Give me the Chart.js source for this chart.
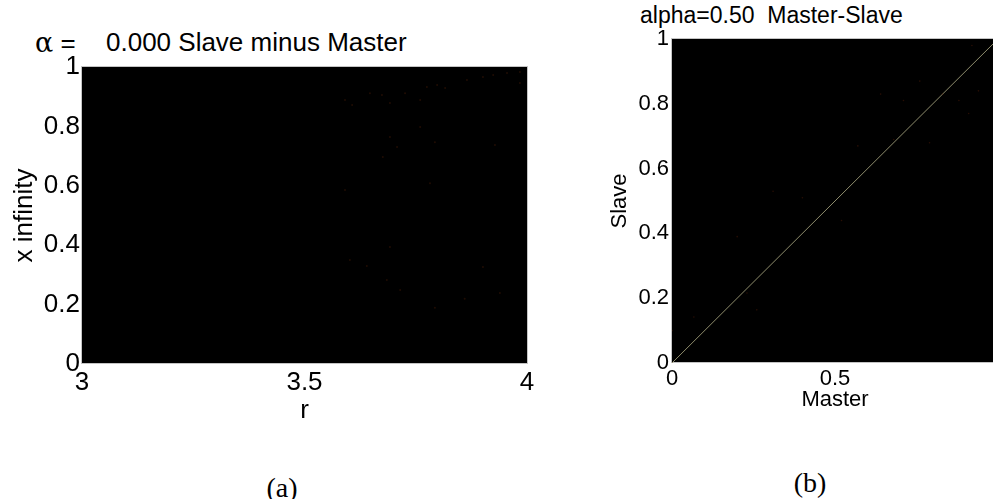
<!DOCTYPE html>
<html>
<head>
<meta charset="utf-8">
<title>Slave minus Master / Master-Slave</title>
<script src="https://cdn.jsdelivr.net/npm/chart.js@4.4.0/dist/chart.umd.min.js"></script>
<style>
  html, body { margin: 0; padding: 0; background: #fff; width: 993px; height: 499px; overflow: hidden; }
  body { position: relative; font-family: 'Liberation Sans', Arial, sans-serif; color: #000; }
  canvas { position: absolute; top: 0; }
  #chartA { left: 0; }
  #chartB { left: 600px; }
  .ttl { position: absolute; white-space: pre; line-height: 1; }
  .greek { font-family: 'DejaVu Serif', serif; font-size: 27px; }
  .cap { position: absolute; width: 100px; text-align: center; line-height: 1; font-family: 'Liberation Serif', serif; font-size: 28px; }
</style>
</head>
<body>
<div class="ttl" style="left:35px; top:29px; font-size:26px"><span class="greek">α</span> =</div>
<div class="ttl" style="left:106px; top:29px; font-size:26px">0.000 Slave minus Master</div>
<div class="ttl" style="left:640px; top:4px; font-size:23px">alpha=0.50  Master-Slave</div>
<canvas id="chartA" width="560" height="440"></canvas>
<canvas id="chartB" width="440" height="440"></canvas>
<div class="cap" style="left:232px; top:474px">(a)</div>
<div class="cap" style="left:760px; top:469px">(b)</div>
<script>
const Chart = window.Chart

// panel (a): r on x, x infinity on y
const rTicks = [3, 3.5, 4]
const xInfTicks = [0, 0.2, 0.4, 0.6, 0.8, 1]
// the few residual specks left after subtracting master from slave
const residR = [3.591, 3.607, 3.647, 3.674, 3.692, 3.726, 3.760, 3.775, 3.798, 3.816, 3.865, 3.901, 3.924, 3.955, 3.984, 3.984,
  3.692, 3.708, 3.760, 3.793, 3.676, 3.928, 3.591, 3.782, 3.692, 3.602, 3.901, 3.685, 3.939, 3.793, 3.715, 3.640, 3.860]
const residX = [0.889, 0.872, 0.912, 0.906, 0.879, 0.912, 0.889, 0.933, 0.939, 0.929, 0.956, 0.966, 0.973, 0.980, 0.983, 0.946,
  0.764, 0.731, 0.798, 0.747, 0.697, 0.737, 0.586, 0.609, 0.394, 0.350, 0.327, 0.283, 0.239, 0.189, 0.249, 0.330, 0.220]

// panel (b): master vs slave
const axisTicks = [0, 0.2, 0.4, 0.6, 0.8, 1]
const masterTicks = [0, 0.5, 1]
const diagMaster = [0, 1]
const diagSlave = [0, 1]
const speckMaster = [0.067, 0.26, 0.20, 0.31, 0.40, 0.52, 0.57, 0.64, 0.71, 0.76, 0.79, 0.91, 0.88, 0.94, 0.92, 0.00, 0.23, 0.68, 0.83]
const speckSlave = [0.142, 0.164, 0.39, 0.53, 0.51, 0.44, 0.67, 0.83, 0.81, 0.87, 0.68, 0.77, 0.81, 0.84, 0.98, 0.10, 0.216, 0.69, 0.83]

function pts (xs, ys) {
  return xs.map((x, i) => ({ x, y: ys[i] }))
}

// black image background + light frame, like the matlab axes
const blackBox = {
  id: 'blackBox',
  beforeDatasetsDraw (chart) {
    const { ctx, chartArea: a } = chart
    ctx.save()
    ctx.fillStyle = '#000'
    ctx.fillRect(a.left, a.top, a.right - a.left, a.bottom - a.top)
    ctx.strokeStyle = '#c4c4c4'
    ctx.lineWidth = 1
    ctx.strokeRect(a.left - 0.5, a.top - 0.5, a.right - a.left + 1, a.bottom - a.top)
    ctx.restore()
  }
}

function axis (min, max, ticks, size, tickPad, fitProp, fitVal, title, titlePad) {
  return {
    type: 'linear',
    min,
    max,
    afterBuildTicks: s => { s.ticks = ticks.map(v => ({ value: v })) },
    afterFit: s => { s[fitProp] = fitVal },
    grid: { display: false, drawTicks: false },
    border: { display: false },
    ticks: { color: '#000', padding: tickPad, font: { family: 'Liberation Sans', size }, callback: v => String(v) },
    title: { display: true, text: title, color: '#000', padding: titlePad, font: { family: 'Liberation Sans', size } }
  }
}

const common = {
  responsive: false,
  devicePixelRatio: 1,
  animation: false,
  events: [],
  plugins: { legend: { display: false }, tooltip: { enabled: false } }
}

new Chart(document.getElementById('chartA'), {
  type: 'scatter',
  data: {
    datasets: [
      { data: pts(residR, residX), pointRadius: 1, borderWidth: 0, backgroundColor: 'rgba(90,35,10,0.35)' }
    ]
  },
  options: {
    ...common,
    layout: { padding: { top: 67, right: 33, bottom: 0, left: 0 } },
    scales: {
      x: axis(3, 4, rTicks, 26, 3, 'height', 76, 'r', { top: 0, bottom: 14 }),
      y: axis(0, 1, xInfTicks, 26, 2, 'width', 82, 'x infinity', { top: 9, bottom: 0 })
    }
  },
  plugins: [blackBox]
})

new Chart(document.getElementById('chartB'), {
  type: 'scatter',
  data: {
    datasets: [
      { data: pts(speckMaster, speckSlave), pointRadius: 0.8, borderWidth: 0, backgroundColor: 'rgba(100,35,10,0.4)' },
      { type: 'line', data: pts(diagMaster, diagSlave), borderColor: '#8e8c6c', borderWidth: 1, pointRadius: 0 }
    ]
  },
  options: {
    ...common,
    layout: { padding: { top: 39, right: 42, bottom: 0, left: 0 } },
    scales: {
      x: axis(0, 1, masterTicks, 22, 3, 'height', 77, 'Master', { top: 0, bottom: 27 }),
      y: axis(0, 1, axisTicks, 22, 3, 'width', 72, 'Slave', { top: 7, bottom: 0 })
    }
  },
  plugins: [blackBox]
})
</script>
</body>
</html>
